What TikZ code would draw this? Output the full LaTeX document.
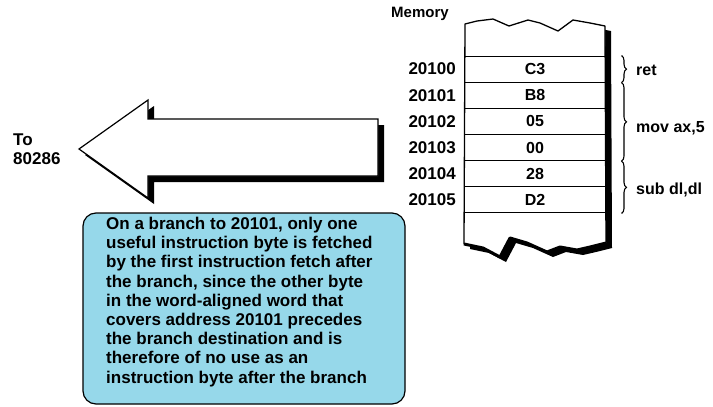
\documentclass[tikz,border=0pt]{standalone}
\usepackage{fontspec}
\setmainfont{Liberation Sans}
\usetikzlibrary{decorations.pathreplacing}
\definecolor{boxblue}{RGB}{150,216,234}
\tikzset{
  lbl/.style={font=\bfseries\fontsize{17}{20}\selectfont, inner sep=0pt},
  val/.style={font=\bfseries\fontsize{16}{19}\selectfont},
  cell/.style={draw, line width=1pt, minimum width=142pt, minimum height=26.17pt, inner sep=0pt, val},
  brc/.style={decorate, decoration={brace, amplitude=5pt}, line width=1.1pt},
  ins/.style={font=\bfseries\fontsize{16}{19}\selectfont, inner sep=0pt, anchor=west}
}
\begin{document}
\begin{tikzpicture}[x=1pt,y=-1pt]
\useasboundingbox (0,0) rectangle (713,407);
% arrow to 80286
\path[fill=black] (85,155) -- (154,106) -- (154,125) -- (384,125) -- (384,182) -- (154,182) -- (154,204) -- cycle;
\draw[fill=white, line width=1.2pt] (79,149) -- (148,100) -- (148,119) -- (378,119) -- (378,176) -- (148,176) -- (148,198) -- cycle;
\node[lbl, anchor=west, align=left, font=\bfseries\fontsize{17}{19}\selectfont] (to) at (13,149) {To\\80286};
% memory column
\path[fill=black, shift={(6,5)}] (465,24) -- (477,21) -- (493,19) -- (509,26) -- (528,20) -- (540,23) -- (558,31) -- (573,20) -- (590,23) -- (605,26)
  -- (606,243) -- (590,247) -- (577,250) -- (560,247) -- (547,252) -- (527,243) -- (510,238) -- (500,257) -- (483,248) -- (464,244) -- cycle;
\draw[fill=white, line width=1.3pt, line join=round] (465,24) -- (477,21) -- (493,19) -- (509,26) -- (528,20) -- (540,23) -- (558,31) -- (573,20) -- (590,23) -- (605,26)
  -- (606,243) -- (590,247) -- (577,250) -- (560,247) -- (547,252) -- (527,243) -- (510,238) -- (500,257) -- (483,248) -- (464,244) -- cycle;
\draw[line width=3pt, line join=round] (606,243) -- (590,247) -- (577,250) -- (560,247) -- (547,252) -- (527,243) -- (510,238) -- (500,257) -- (483,248) -- (464,244);
\node[lbl, anchor=south west, font=\bfseries\fontsize{15}{18}\selectfont] (mem) at (391,21) {Memory};
% cells
\node[cell] (c0) at (535,69.1) {C3};
\node[cell] (c1) at (535,95.3) {B8};
\node[cell] (c2) at (535,121.4) {05};
\node[cell] (c3) at (535,147.6) {00};
\node[cell] (c4) at (535,173.8) {28};
\node[cell] (c5) at (535,199.9) {D2};
% addresses
\node[lbl, anchor=east] (a0) at (456,69.1) {20100};
\node[lbl, anchor=east] (a1) at (456,95.3) {20101};
\node[lbl, anchor=east] (a2) at (456,121.4) {20102};
\node[lbl, anchor=east] (a3) at (456,147.6) {20103};
\node[lbl, anchor=east] (a4) at (456,173.8) {20104};
\node[lbl, anchor=east] (a5) at (456,199.9) {20105};
% braces
\coordinate (b0) at ([xshift=15pt]c0.north east);
\coordinate (b1) at ([xshift=15pt]c0.south east);
\coordinate (b2) at ([xshift=15pt]c3.south east);
\coordinate (b3) at ([xshift=15pt]c5.south east);
\draw[brc] (b0) -- (b1);
\draw[brc] (b1) -- (b2);
\draw[brc] (b2) -- (b3);
\node[lbl, anchor=west, font=\bfseries\fontsize{16}{19}\selectfont] (r0) at (636,70) {ret};
\node[lbl, anchor=west, font=\bfseries\fontsize{16}{19}\selectfont] (r1) at (636,128) {mov ax,5};
\node[lbl, anchor=west, font=\bfseries\fontsize{16}{19}\selectfont] (r2) at (636,190) {sub dl,dl};
% explanation box
\draw[fill=boxblue, line width=1.2pt, rounded corners=13pt] (83,213) rectangle (405,404);
\node[ins, anchor=north west, align=left, font=\bfseries\fontsize{17}{19.2}\selectfont] (note) at (106,217) {On a branch to 20101, only one\\useful instruction byte is fetched\\by the first instruction fetch after\\the branch, since the other byte\\in the word-aligned word that\\covers address 20101 precedes\\the branch destination and is\\therefore of no use as an\\instruction byte after the branch};
\end{tikzpicture}
\end{document}
